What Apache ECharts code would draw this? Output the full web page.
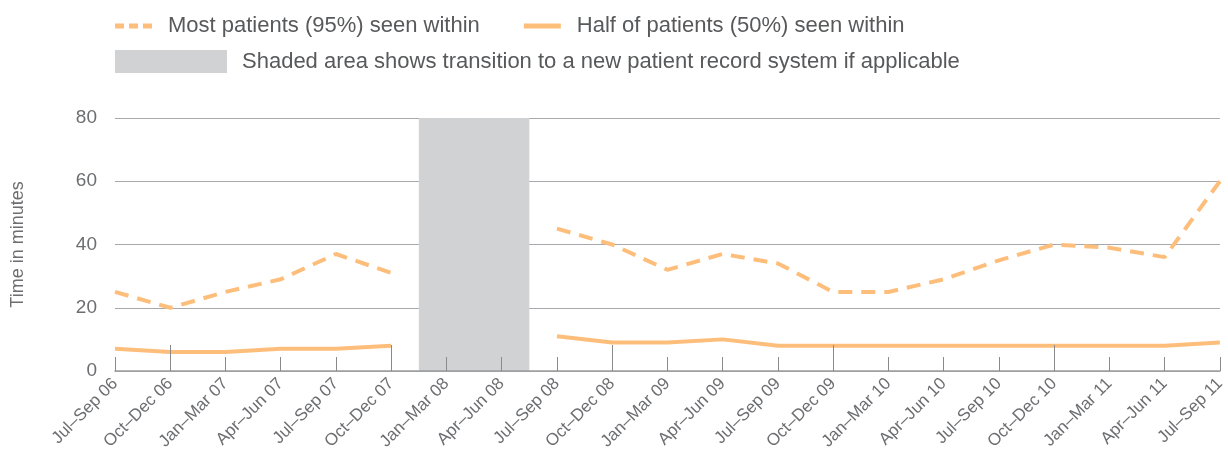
<!DOCTYPE html>
<html>
<head>
<meta charset="utf-8">
<script src="https://cdn.jsdelivr.net/npm/echarts@6/dist/echarts.min.js"></script>
<style>
html,body{margin:0;padding:0;background:#fff;}
#main{width:1228px;height:453px;}
</style>
</head>
<body>
<div id="main"></div>
<script>
var quarters = ['Jul–Sep 06','Oct–Dec 06','Jan–Mar 07','Apr–Jun 07','Jul–Sep 07','Oct–Dec 07',
    'Jan–Mar 08','Apr–Jun 08','Jul–Sep 08','Oct–Dec 08','Jan–Mar 09','Apr–Jun 09','Jul–Sep 09',
    'Oct–Dec 09','Jan–Mar 10','Apr–Jun 10','Jul–Sep 10','Oct–Dec 10','Jan–Mar 11','Apr–Jun 11','Jul–Sep 11'];
var most95 = [25,20,25,29,37,31,null,null,45,40,32,37,34,25,25,29,35,40,39,36,60];
var half50 = [7,6,6,7,7,8,null,null,11,9,9,10,8,8,8,8,8,8,8,8,9];
var yTicks = [0,20,40,60,80];
var shadeFrom = 'Jan–Mar 08';
var shadeTo = 'Apr–Jun 08';

var orange = '#fdbe7c';
var shadeGray = '#d1d2d4';
var textGray = '#58595b';
var axisGray = '#6d6e71';
var font = 'Liberation Sans';

var name95 = 'Most patients (95%) seen within';
var name50 = 'Half of patients (50%) seen within';
var nameShade = 'Shaded area shows transition to a new patient record system if applicable';

// legend icons: dashed and solid strokes
var dashIcon = 'path://M0,0h9v5h-9z M14,0h9v5h-9z M28,0h9v5h-9z';
var solidIcon = 'path://M0,0h37v5h-37z';

var main = echarts.init(document.getElementById('main'));
var option = {
    animation: false,
    textStyle: {fontFamily: font},
    legend: [{
        left: 115, top: 15, padding: 0,
        itemWidth: 37, itemHeight: 22, itemGap: 44,
        textStyle: {fontSize: 22, color: textGray, padding: [0, 0, 0, 11], fontFamily: font},
        data: [
            {name: name95, icon: dashIcon, itemStyle: {color: orange}},
            {name: name50, icon: solidIcon, itemStyle: {color: orange}}
        ]
    }, {
        left: 115, top: 50, padding: 0,
        itemWidth: 112, itemHeight: 23,
        textStyle: {fontSize: 22, color: textGray, padding: [0, 0, 0, 10], fontFamily: font},
        data: [{name: nameShade, icon: 'rect', itemStyle: {color: shadeGray}}]
    }],
    grid: {left: 115, right: 1, top: 118, bottom: 82},
    xAxis: [{
        type: 'category',
        data: quarters,
        boundaryGap: false,
        z: 5,
        axisLine: {lineStyle: {color: '#9d9d9f', width: 1.5}},
        axisTick: {show: true, inside: true, length: 14, interval: 0, lineStyle: {color: '#8a8a8c'}},
        axisLabel: {interval: 0, rotate: 45, fontSize: 17, color: axisGray, margin: 10, fontFamily: font}
    }, {
        type: 'category',
        data: quarters,
        boundaryGap: false,
        position: 'bottom',
        z: 5,
        axisLine: {show: false},
        axisTick: {show: true, inside: true, length: 26, lineStyle: {color: '#8a8a8c'},
            interval: function (i, v) { return v.indexOf('Oct') === 0; }},
        axisLabel: {show: false}
    }, {
        type: 'value',
        min: 0, max: quarters.length - 1,
        show: false
    }],
    yAxis: {
        type: 'value',
        min: yTicks[0], max: yTicks[yTicks.length - 1], interval: yTicks[1] - yTicks[0],
        name: 'Time in minutes',
        nameLocation: 'middle',
        nameGap: 88,
        nameTextStyle: {fontSize: 18, color: axisGray, fontFamily: font},
        axisLine: {show: false},
        axisTick: {show: false},
        axisLabel: {fontSize: 19, color: axisGray, margin: 18, fontFamily: font},
        splitLine: {lineStyle: {color: '#a7a9ac', width: 1.2}}
    },
    series: [{
        name: nameShade,
        type: 'line',
        xAxisIndex: 2,
        data: [],
        itemStyle: {color: shadeGray},
        markArea: {
            silent: true,
            itemStyle: {color: shadeGray},
            data: [[
                {xAxis: quarters.indexOf(shadeFrom) - 0.5},
                {xAxis: quarters.indexOf(shadeTo) + 0.5}
            ]]
        }
    }, {
        name: name95,
        type: 'line',
        data: most95,
        symbol: 'none',
        z: 3,
        itemStyle: {color: orange},
        lineStyle: {color: orange, width: 4, type: [14, 9]}
    }, {
        name: name50,
        type: 'line',
        data: half50,
        symbol: 'none',
        z: 3,
        itemStyle: {color: orange},
        lineStyle: {color: orange, width: 4}
    }]
};
main.setOption(option);
</script>
</body>
</html>
